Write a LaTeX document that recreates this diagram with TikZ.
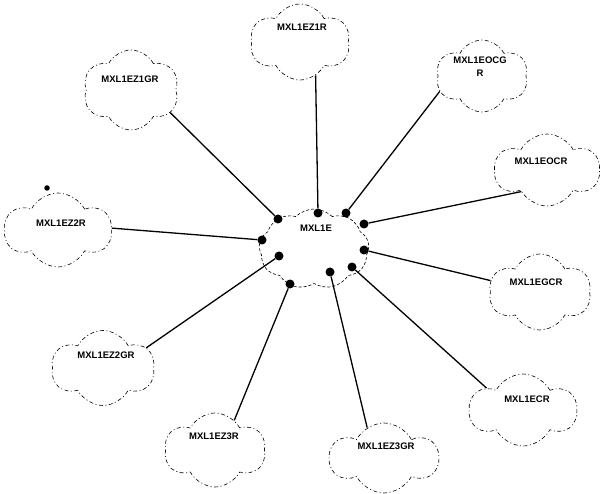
\documentclass[tikz,border=0pt]{standalone}
\usepackage{fontspec}
\setmainfont{Liberation Sans}
\usetikzlibrary{shapes.symbols}

\begin{document}
\begin{tikzpicture}[x=1pt,y=-1pt,
        cloudbox/.style={draw,cloud,cloud puffs=6,cloud puff arc=125,cloud ignores aspect,inner sep=0pt,line width=0.6pt,dash pattern=on 4pt off 2.5pt on 1pt off 2.5pt},
        hubcloud/.style={draw,cloud,cloud puffs=9,cloud puff arc=90,cloud ignores aspect,inner sep=0pt,minimum width=110pt,minimum height=80pt,line width=0.6pt,dash pattern=on 3pt off 2pt},
        tag/.style={font=\fontsize{9.5}{13}\selectfont\bfseries,inner sep=0pt,align=center},
        port/.style={circle,fill=black,minimum size=9pt,inner sep=0pt},
        link/.style={line width=1.3pt}
    ]

    \useasboundingbox (0,0) rectangle (602,494);

    % central cloud
    \node[hubcloud] (hub) at (314,249) {};
    \node[tag] (hubtag) at (316,228) {MXL1E};

    % outer clouds
    \node[cloudbox,minimum width=100pt,minimum height=76pt] (z1r) at (300,42) {};
    \node[tag] at (302,27) {MXL1EZ1R};

    \node[cloudbox,minimum width=96pt,minimum height=80pt] (z1gr) at (131,90) {};
    \node[tag] at (130,79) {MXL1EZ1GR};

    \node[cloudbox,minimum width=92pt,minimum height=72pt] (ocgr) at (482,76) {};
    \node[tag] at (480,67) {MXL1EOCG\\R};

    \node[cloudbox,minimum width=105pt,minimum height=72pt] (ocr) at (547,170) {};
    \node[tag] at (541,161) {MXL1EOCR};

    \node[cloudbox,minimum width=107pt,minimum height=74pt] (z2r) at (58,230) {};
    \node[tag] at (61,223) {MXL1EZ2R};
    \node[circle,fill=black,minimum size=5.5pt,inner sep=0pt] (speck) at (47,188) {};

    \node[cloudbox,minimum width=102pt,minimum height=76pt] (egcr) at (540,292) {};
    \node[tag] at (536,282) {MXL1EGCR};

    \node[cloudbox,minimum width=103pt,minimum height=75pt] (z2gr) at (103,368) {};
    \node[tag] at (106,355) {MXL1EZ2GR};

    \node[cloudbox,minimum width=101pt,minimum height=74pt] (z3r) at (215,450) {};
    \node[tag] at (214,436) {MXL1EZ3R};

    \node[cloudbox,minimum width=108pt,minimum height=70pt] (z3gr) at (384,458) {};
    \node[tag] at (386,446) {MXL1EZ3GR};

    \node[cloudbox,minimum width=107pt,minimum height=72pt] (ecr) at (523,410) {};
    \node[tag] at (527,399) {MXL1ECR};

    % ports on the central cloud
    \node[port] (pz1r) at (318,213) {};
    \node[port] (pz1gr) at (278,219) {};
    \node[port] (pocgr) at (346,213) {};
    \node[port] (pocr) at (364,224) {};
    \node[port] (pz2r) at (262,240) {};
    \node[port] (pegcr) at (364,250) {};
    \node[port] (pz2gr) at (279,256) {};
    \node[port] (pz3r) at (290,284) {};
    \node[port] (pz3gr) at (330,272) {};
    \node[port] (pecr) at (352,267) {};

    % links
    \draw[link] (pz1r) -- (z1r.-65);
    \draw[link] (pz1gr) -- (z1gr.-30);
    \draw[link] (pocgr) -- (ocgr.-160);
    \draw[link] (pocr) -- (ocr.-140);
    \draw[link] (pz2r) -- (z2r.2);
    \draw[link] (pegcr) -- (egcr.167);
    \draw[link] (pz2gr) -- (z2gr.25);
    \draw[link] (pz3r) -- (z3r.57);
    \draw[link] (pz3gr) -- (z3gr.119);
    \draw[link] (pecr) -- (ecr.149);

\end{tikzpicture}
\end{document}
